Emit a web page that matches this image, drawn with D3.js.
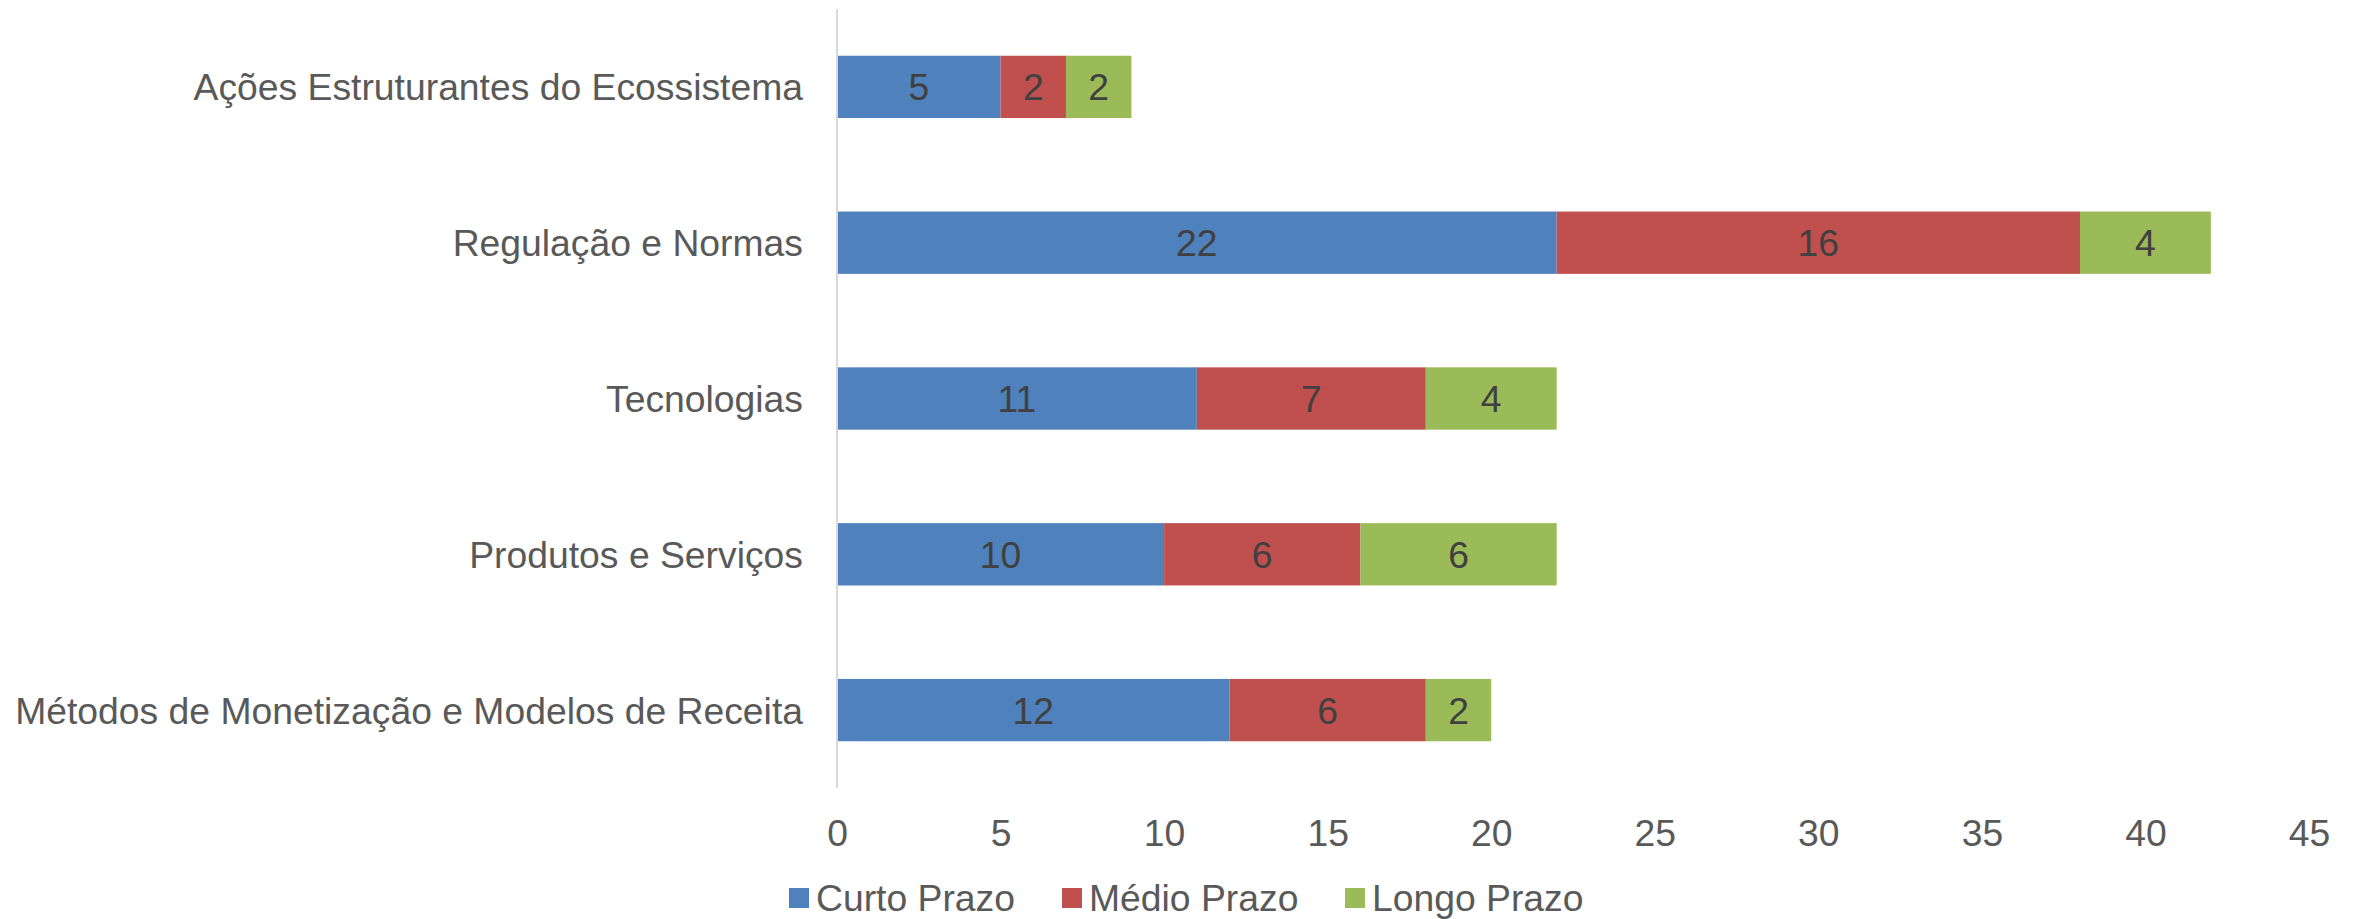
<html>
<head>
    <script src="https://d3js.org/d3.v7.min.js"></script>
    <style>
        body { margin: 0; background: #fff; }
        text { font-family: "Liberation Sans", Arial, sans-serif; }
    </style>
</head>
<body>
    <div id="vis"></div>
</body>
<script>
    // data
    var categories = ["Ações Estruturantes do Ecossistema", "Regulação e Normas", "Tecnologias",
        "Produtos e Serviços", "Métodos de Monetização e Modelos de Receita"];
    var seriesNames = ["Curto Prazo", "Médio Prazo", "Longo Prazo"];
    var curto = [5, 22, 11, 10, 12];
    var medio = [2, 16, 7, 6, 6];
    var longo = [2, 4, 4, 6, 2];
    var xTicks = [0, 5, 10, 15, 20, 25, 30, 35, 40, 45];
    var colors = ["#4F81BD", "#C0504D", "#9BBB59"];

    var W = 2362, H = 919;
    var margin = { top: 9, right: 53, bottom: 131, left: 837 };
    var width = W - margin.left - margin.right,
        height = H - margin.top - margin.bottom;
    var fs = "37.3px";

    var svg = d3.select("#vis").append("svg")
        .attr("width", W).attr("height", H);
    var g = svg.append("g")
        .attr("transform", "translate(" + margin.left + "," + margin.top + ")");

    var rows = categories.map(function (c, i) {
        return { cat: c, "Curto Prazo": curto[i], "Médio Prazo": medio[i], "Longo Prazo": longo[i] };
    });
    var stacked = d3.stack().keys(seriesNames)(rows);

    var x = d3.scaleLinear().domain([0, 45]).range([0, width]);
    var y = d3.scaleBand().domain(categories).range([0, height])
        .paddingInner(0.6).paddingOuter(0.3);

    // bars
    var layers = g.selectAll(".layer").data(stacked).enter().append("g")
        .attr("fill", function (d, i) { return colors[i]; });
    layers.selectAll("rect").data(function (d) { return d; }).enter().append("rect")
        .attr("x", function (d) { return x(d[0]); })
        .attr("y", function (d) { return y(d.data.cat); })
        .attr("width", function (d) { return x(d[1]) - x(d[0]); })
        .attr("height", y.bandwidth());

    // value labels
    layers.selectAll("text").data(function (d) { return d; }).enter().append("text")
        .attr("x", function (d) { return (x(d[0]) + x(d[1])) / 2; })
        .attr("y", function (d) { return y(d.data.cat) + y.bandwidth() / 2; })
        .attr("dy", "0.36em")
        .attr("text-anchor", "middle")
        .attr("fill", "#404040")
        .style("font-size", fs)
        .text(function (d) { return d[1] - d[0]; });

    // y axis (line + labels)
    g.append("line")
        .attr("x1", 0).attr("x2", 0).attr("y1", 0).attr("y2", height)
        .attr("stroke", "#D9D9D9").attr("stroke-width", 2);
    g.selectAll(".cat").data(categories).enter().append("text")
        .attr("x", -34)
        .attr("y", function (d) { return y(d) + y.bandwidth() / 2; })
        .attr("dy", "0.36em")
        .attr("text-anchor", "end")
        .attr("fill", "#595959")
        .style("font-size", fs)
        .text(function (d) { return d; });

    // x axis labels
    var xAxis = g.append("g")
        .attr("transform", "translate(0," + height + ")")
        .call(d3.axisBottom(x).tickValues(xTicks).tickSize(0).tickPadding(32));
    xAxis.select(".domain").remove();
    xAxis.selectAll("text")
        .attr("fill", "#595959")
        .style("font-size", fs)
        .style("font-family", "'Liberation Sans', Arial, sans-serif");

    // legend
    var legendX = [789, 1062, 1345];
    var legend = svg.selectAll(".legend").data(seriesNames).enter().append("g")
        .attr("transform", function (d, i) { return "translate(" + legendX[i] + ",898)"; });
    legend.append("rect")
        .attr("x", 0).attr("y", -10).attr("width", 20).attr("height", 20)
        .attr("fill", function (d, i) { return colors[i]; });
    legend.append("text")
        .attr("x", 27).attr("dy", "0.36em")
        .attr("fill", "#595959")
        .style("font-size", fs)
        .text(function (d) { return d; });
</script>
</html>
